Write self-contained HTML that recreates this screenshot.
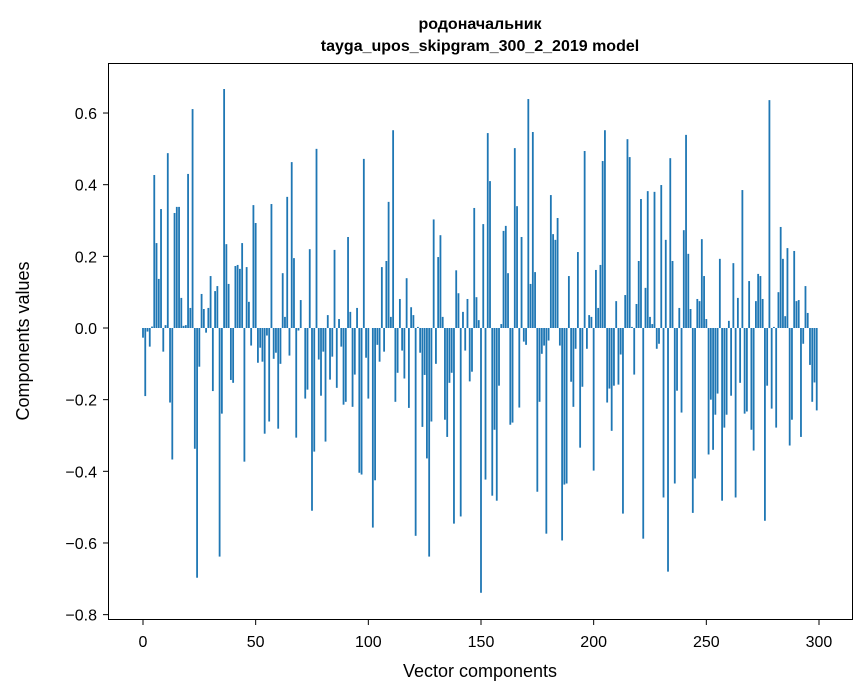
<!DOCTYPE html>
<html><head><meta charset="utf-8"><style>
body{margin:0;background:#fff;}
svg{display:block;font-family:"Liberation Sans","DejaVu Sans",sans-serif;}
</style></head><body>
<svg id="chart" width="867" height="696" xmlns="http://www.w3.org/2000/svg">
<rect width="867" height="696" fill="#fff"/>
<text x="480" y="29" text-anchor="middle" font-size="16" font-weight="bold">родоначальник</text>
<text x="480" y="51" text-anchor="middle" font-size="16" font-weight="bold">tayga_upos_skipgram_300_2_2019 model</text>
<g id="bars"></g>
<g id="axes"></g>
<rect x="108.5" y="63.5" width="744" height="556" fill="none" stroke="#000" stroke-width="1"/>
<text x="480" y="677" text-anchor="middle" font-size="18">Vector components</text>
<text transform="translate(29,341) rotate(-90)" text-anchor="middle" font-size="18">Components values</text>
</svg>
<script>
const values = [
-0.027,-0.19,-0.01,-0.052,0.004,0.427,0.237,0.137,0.332,-0.066,
0.008,0.488,-0.208,-0.367,0.321,0.338,0.338,0.084,0.006,0.008,
0.43,0.056,0.611,-0.337,-0.697,-0.108,0.095,0.053,-0.013,0.056,
0.145,-0.176,0.103,0.117,-0.638,-0.239,0.667,0.234,0.123,-0.145,
-0.153,0.173,0.176,0.165,0.237,-0.373,0.17,0.073,-0.049,0.343,
0.293,-0.097,-0.055,-0.094,-0.295,-0.021,-0.261,0.346,-0.086,-0.069,
-0.281,-0.1,0.153,0.031,0.366,-0.077,0.463,0.195,-0.306,-0.007,
0.078,0,-0.197,-0.172,0.22,-0.51,-0.345,0.5,-0.088,-0.189,
-0.066,-0.317,0.036,-0.144,-0.08,0.218,-0.167,0.025,-0.052,-0.214,
-0.206,0.254,0.045,-0.22,-0.13,0.056,-0.404,-0.409,0.472,-0.083,
-0.197,0,-0.557,-0.425,-0.047,-0.094,0.17,-0.066,0.187,0.352,
0.031,0.552,-0.206,-0.125,0.081,-0.063,-0.141,0.139,-0.223,0.058,
0.036,-0.58,0.003,-0.069,-0.276,-0.131,-0.364,-0.638,-0.261,0.303,
-0.1,0.198,0.259,0.031,-0.256,-0.304,-0.153,-0.125,-0.546,0.161,
0.097,-0.526,0.045,-0.063,0.081,-0.149,-0.122,0.335,0.086,0.022,
-0.739,0.29,-0.423,0.544,0.41,-0.468,-0.284,-0.482,-0.161,0.011,
0.271,0.285,0.153,-0.27,-0.264,0.502,0.34,-0.222,0.254,-0.038,
-0.047,0.639,0.123,0.547,0.156,-0.457,-0.206,-0.072,-0.049,-0.574,
-0.035,0.371,0.262,0.246,0.307,-0.049,-0.593,-0.437,-0.434,0.145,
-0.15,-0.22,-0.058,0.212,-0.334,-0.164,0.494,-0.058,0.036,0.031,
-0.398,0.162,0.056,0.176,0.466,0.552,-0.208,-0.169,-0.287,-0.161,
0.075,-0.158,-0.074,-0.518,0.092,0.527,0.477,0.003,-0.13,0.067,
0.187,0.36,-0.588,0.112,0.382,0.031,0.011,0.38,-0.058,-0.044,
0.399,-0.473,0.246,-0.68,0.474,0.187,-0.434,-0.175,0.056,-0.236,
0.273,0.539,0.207,0.053,-0.516,-0.42,0.081,0.075,0.248,0.145,
0.025,-0.353,-0.2,-0.34,-0.242,-0.183,0.193,-0.482,-0.278,-0.242,
0.02,-0.189,0.181,-0.473,0.084,-0.153,0.385,-0.239,-0.233,0.131,
-0.284,-0.342,0.075,0.151,0.145,0.081,-0.538,-0.161,0.636,-0.225,
0.003,-0.278,0.1,0.282,0.193,0.033,0.223,-0.328,-0.256,0.215,
0.075,0.078,-0.304,-0.044,0.117,0.042,-0.103,-0.206,-0.152,-0.23
];
const xTicks = [0,50,100,150,200,250,300];
const yTicks = [-0.8,-0.6,-0.4,-0.2,0.0,0.2,0.4,0.6];
const yTickLabels = ["\u22120.8","\u22120.6","\u22120.4","\u22120.2","0.0","0.2","0.4","0.6"];

const NS = "http://www.w3.org/2000/svg";
const x = i => 143 + i * 2.2533;
const y = v => 328 - v * 358.3;
const bw = 0.8 * 2.2533;
const gb = document.getElementById('bars');
values.forEach((v, i) => {
  const r = document.createElementNS(NS, 'rect');
  r.setAttribute('x', x(i) - bw / 2);
  r.setAttribute('y', Math.min(y(v), y(0)));
  r.setAttribute('width', bw);
  r.setAttribute('height', Math.abs(y(v) - y(0)));
  r.setAttribute('fill', '#1f77b4');
  
  
  gb.appendChild(r);
});
const ga = document.getElementById('axes');
xTicks.forEach(t => {
  const l = document.createElementNS(NS, 'line');
  l.setAttribute('x1', x(t)); l.setAttribute('x2', x(t));
  l.setAttribute('y1', 619.5); l.setAttribute('y2', 625);
  l.setAttribute('stroke', '#000');
  
  
  ga.appendChild(l);
  const tx = document.createElementNS(NS, 'text');
  tx.setAttribute('x', x(t)); tx.setAttribute('y', 647);
  tx.setAttribute('text-anchor', 'middle'); tx.setAttribute('font-size', '16');
  tx.textContent = String(t);
  
  
  ga.appendChild(tx);
});
yTicks.forEach((t, k) => {
  const l = document.createElementNS(NS, 'line');
  l.setAttribute('x1', 103); l.setAttribute('x2', 108.5);
  l.setAttribute('y1', y(t)); l.setAttribute('y2', y(t));
  l.setAttribute('stroke', '#000');
  
  
  ga.appendChild(l);
  const tx = document.createElementNS(NS, 'text');
  tx.setAttribute('x', 97); tx.setAttribute('y', y(t) + 6);
  tx.setAttribute('text-anchor', 'end'); tx.setAttribute('font-size', '16');
  tx.textContent = yTickLabels[k];
  
  
  ga.appendChild(tx);
});
</script>
</body></html>
